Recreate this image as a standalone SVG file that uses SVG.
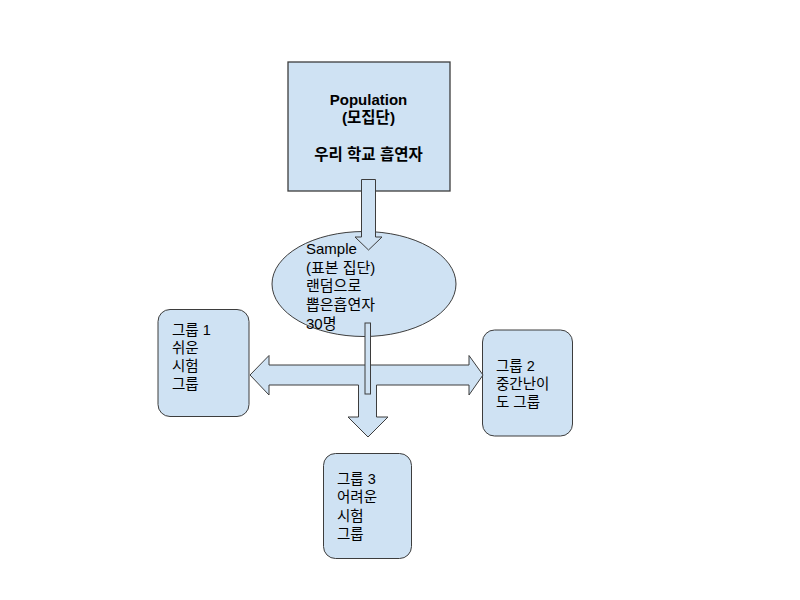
<svg xmlns="http://www.w3.org/2000/svg" width="800" height="600" viewBox="0 0 800 600">
<style>
.shape{fill:#cfe2f3;stroke:#3d3d3d;stroke-width:1}
.t{font-family:"Liberation Sans","Noto Sans CJK KR",Arial,sans-serif;font-size:14.5px;fill:#000}
.e{font-size:15px}
.b{font-weight:bold;font-size:15.5px}
</style>
<rect x="0" y="0" width="800" height="600" fill="#ffffff"/>
<g id="population">
<rect class="shape" x="288" y="62" width="162" height="129" style="stroke-width:1.3"/>
<text class="t b" x="368.5" y="105" text-anchor="middle" style="font-size:15px">Population</text>
<text class="t b" x="368.5" y="123" text-anchor="middle">(모집단)</text>
<text class="t b" x="368.5" y="160" text-anchor="middle">우리 학교 흡연자</text>
</g>
<g id="sample">
<ellipse class="shape" cx="364" cy="284" rx="92" ry="52.5"/>
<text class="t e" x="306" y="254">Sample</text>
<text class="t e" x="306" y="273">(표본 집단)</text>
<text class="t e" x="306" y="291">랜덤으로</text>
<text class="t e" x="306" y="310">뽑은흡연자</text>
<text class="t e" x="306" y="329">30명</text>
</g>
<g id="group1">
<rect class="shape" x="158" y="309.5" width="91" height="107" rx="12" ry="12"/>
<text class="t" x="172" y="335">그룹 1</text>
<text class="t" x="172" y="353">쉬운</text>
<text class="t" x="172" y="371">시험</text>
<text class="t" x="172" y="389">그룹</text>
</g>
<g id="group2">
<rect class="shape" x="482.5" y="330" width="90" height="106" rx="12" ry="12"/>
<text class="t" x="496" y="371">그룹 2</text>
<text class="t" x="496" y="389">중간난이</text>
<text class="t" x="496" y="407">도 그룹</text>
</g>
<g id="group3">
<rect class="shape" x="323.5" y="453.5" width="88" height="105" rx="12" ry="12"/>
<text class="t" x="337" y="484">그룹 3</text>
<text class="t" x="337" y="502">어려운</text>
<text class="t" x="337" y="521">시험</text>
<text class="t" x="337" y="539">그룹</text>
</g>
<g id="connectors">
<polygon class="shape" points="361.5,179.5 375.5,179.5 375.5,237 382,237 368.5,250 355,237 361.5,237"/>
<polygon class="shape" points="250,375 269,355.5 269,365 469,365 469,355.5 483,375 469,395 469,385 376.5,385 376.5,417 388,417 368,437 348,417 358.5,417 358.5,385 269,385 269,395"/>
<rect class="shape" x="365" y="323" width="5.5" height="71"/>
</g>
</svg>
